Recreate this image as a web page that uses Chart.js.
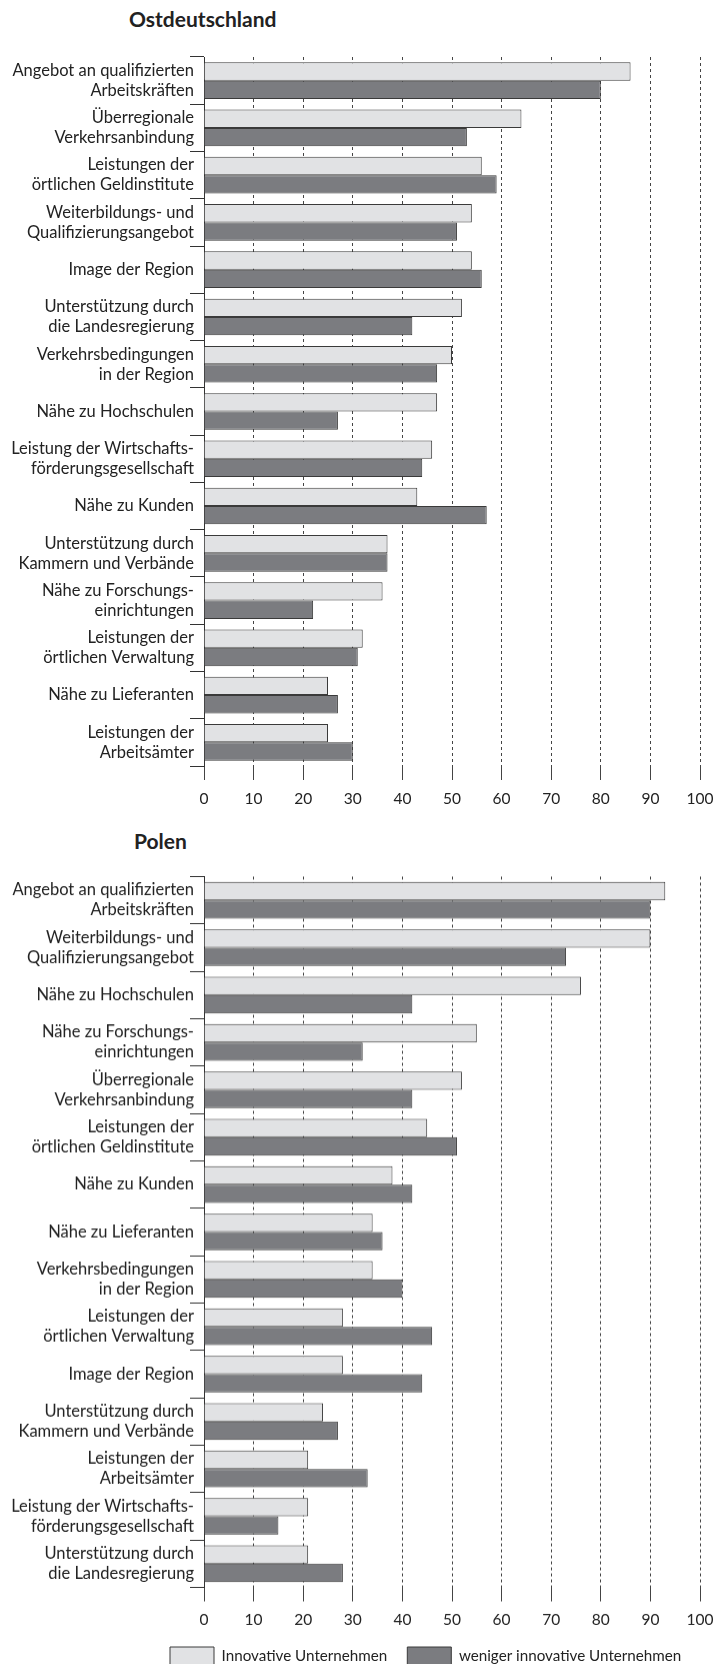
<!DOCTYPE html>
<html lang="de">
<head>
<meta charset="utf-8">
<title>Standortfaktoren Ostdeutschland und Polen</title>
<script src="https://cdn.jsdelivr.net/npm/chart.js@4.4.1/dist/chart.umd.min.js"></script>
<style>
  html, body { margin: 0; padding: 0; background: #fff; }
  #page { position: relative; width: 725px; height: 1664px; overflow: hidden; font-family: Lato, sans-serif; color: #222; }
  .titel { position: absolute; margin: 0; font-size: 21px; font-weight: 700; line-height: 20px; }
  #titel1 { left: 129px; top: 9px; }
  #titel2 { left: 134px; top: 831px; }
  .box { position: absolute; left: 0; width: 725px; }
  #box1 { top: 0; height: 810px; }
  #box2 { top: 830px; height: 848.5px; }
</style>
</head>
<body>
<div id="page">
  <h2 class="titel" id="titel1">Ostdeutschland</h2>
  <h2 class="titel" id="titel2">Polen</h2>
  <div class="box" id="box1"><canvas id="ost"></canvas></div>
  <div class="box" id="box2"><canvas id="polen"></canvas></div>
</div>
<script>
"use strict";

const seriesNames = ["Innovative Unternehmen", "weniger innovative Unternehmen"];
const xTickValues = [0, 10, 20, 30, 40, 50, 60, 70, 80, 90, 100];

const ostLabels = [
    ["Angebot an qualifizierten", "Arbeitskräften"],
    ["Überregionale", "Verkehrsanbindung"],
    ["Leistungen der", "örtlichen Geldinstitute"],
    ["Weiterbildungs- und", "Qualifizierungsangebot"],
    "Image der Region",
    ["Unterstützung durch", "die Landesregierung"],
    ["Verkehrsbedingungen", "in der Region"],
    "Nähe zu Hochschulen",
    ["Leistung der Wirtschafts-", "förderungsgesellschaft"],
    "Nähe zu Kunden",
    ["Unterstützung durch", "Kammern und Verbände"],
    ["Nähe zu Forschungs-", "einrichtungen"],
    ["Leistungen der", "örtlichen Verwaltung"],
    "Nähe zu Lieferanten",
    ["Leistungen der", "Arbeitsämter"]
];
const ostInnovativ = [86, 64, 56, 54, 54, 52, 50, 47, 46, 43, 37, 36, 32, 25, 25];
const ostWeniger = [80, 53, 59, 51, 56, 42, 47, 27, 44, 57, 37, 22, 31, 27, 30];

const polenLabels = [
    ["Angebot an qualifizierten", "Arbeitskräften"],
    ["Weiterbildungs- und", "Qualifizierungsangebot"],
    "Nähe zu Hochschulen",
    ["Nähe zu Forschungs-", "einrichtungen"],
    ["Überregionale", "Verkehrsanbindung"],
    ["Leistungen der", "örtlichen Geldinstitute"],
    "Nähe zu Kunden",
    "Nähe zu Lieferanten",
    ["Verkehrsbedingungen", "in der Region"],
    ["Leistungen der", "örtlichen Verwaltung"],
    "Image der Region",
    ["Unterstützung durch", "Kammern und Verbände"],
    ["Leistungen der", "Arbeitsämter"],
    ["Leistung der Wirtschafts-", "förderungsgesellschaft"],
    ["Unterstützung durch", "die Landesregierung"]
];
const polenInnovativ = [93, 90, 76, 55, 52, 45, 38, 34, 34, 28, 28, 24, 21, 21, 21];
const polenWeniger = [90, 73, 42, 32, 42, 51, 42, 36, 40, 46, 44, 27, 33, 15, 28];

const hell = "#e1e2e4";
const dunkel = "#7b7c80";
const kante = "#3a3a3a";
const schrift = "#222";
const fontFamily = "Lato, sans-serif";

// puts the legend row under the lower chart where the printed one sits
const legendPlace = {
    id: "legendPlace",
    afterLayout(chart) {
        const lg = chart.legend;
        if (!lg || !lg.options.display) return;
        const pad = lg.options.labels.padding;
        const dx = 170 - pad - lg.left;
        const dy = chart.chartArea.bottom + 59.5 - pad - lg.top;
        lg.left += dx;
        lg.right += dx;
        lg.top += dy;
        lg.bottom += dy;
    }
};

function makeChart(canvasId, labels, innovativ, weniger, o) {
    return new Chart(document.getElementById(canvasId), {
        type: "bar",
        data: {
            labels: labels,
            datasets: [ {
                label: seriesNames[0],
                data: innovativ,
                backgroundColor: hell,
                borderColor: kante,
                borderWidth: 1
            }, {
                label: seriesNames[1],
                data: weniger,
                backgroundColor: dunkel,
                borderColor: kante,
                borderWidth: 1
            } ]
        },
        options: {
            indexAxis: "y",
            responsive: true,
            maintainAspectRatio: false,
            animation: false,
            datasets: {
                bar: { categoryPercentage: 0.776, barPercentage: 1 }
            },
            layout: {
                padding: { top: o.top, right: 25, bottom: 0, left: 0 }
            },
            plugins: {
                title: { display: false },
                tooltip: { enabled: false },
                legend: {
                    display: o.legend,
                    position: "bottom",
                    align: "start",
                    labels: {
                        boxWidth: 44,
                        boxHeight: 18,
                        padding: 20,
                        color: schrift,
                        font: { family: fontFamily, size: 15.2 }
                    }
                }
            },
            scales: {
                x: {
                    type: "linear",
                    position: "bottom",
                    min: 0,
                    max: 100,
                    afterBuildTicks: function(axis) {
                        axis.ticks = xTickValues.map(v => ({ value: v }));
                    },
                    afterFit: function(axis) {
                        axis.height = 44;
                    },
                    grid: {
                        color: "#444",
                        lineWidth: 1,
                        drawTicks: true,
                        tickLength: 14,
                        tickColor: "#444",
                        tickWidth: 1,
                        tickBorderDash: []
                    },
                    border: { display: false, dash: [3, 3] },
                    ticks: {
                        padding: o.tickPad,
                        color: schrift,
                        maxRotation: 0,
                        font: { family: fontFamily, size: 15.5, lineHeight: 1.2 }
                    }
                },
                y: {
                    type: "category",
                    position: "left",
                    afterFit: function(axis) {
                        axis.width = 204;
                    },
                    grid: {
                        offset: true,
                        drawOnChartArea: false,
                        drawTicks: true,
                        tickLength: 14,
                        color: "#333",
                        tickColor: "#333"
                    },
                    border: { display: true, color: "#333", width: 1 },
                    ticks: {
                        autoSkip: false,
                        padding: -4,
                        color: schrift,
                        font: { family: fontFamily, size: 16.5, lineHeight: 1.212 }
                    }
                }
            }
        },
        plugins: o.legend ? [ legendPlace ] : []
    });
}

makeChart("ost", ostLabels, ostInnovativ, ostWeniger, { top: 57, tickPad: 9.7, legend: false });
makeChart("polen", polenLabels, polenInnovativ, polenWeniger, { top: 46.5, tickPad: 8.9, legend: true });
</script>
</body>
</html>
